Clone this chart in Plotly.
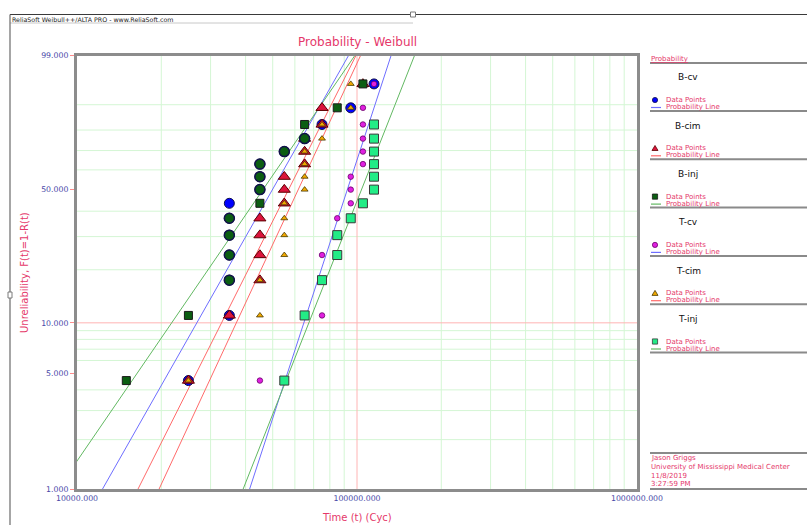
import numpy as np
import plotly.graph_objects as go

W, H = 807, 525

# Median-rank unreliability (%) for a sample of 15
unrel_pct = [4.55, 11.04, 17.53, 24.03, 30.52, 37.01, 43.51, 50.00,
             56.49, 62.99, 69.48, 75.97, 82.47, 88.96, 95.45]

series_names = ["B-cv", "B-cim", "B-inj", "T-cv", "T-cim", "T-inj"]

# Cycles to failure, sorted, aligned with unrel_pct
cycles_b_cv = [25000, 35000, 35000, 35000, 35000, 35000, 35000, 45000,
               45000, 45000, 55000, 65000, 75000, 95000, 115000]
cycles_b_cim = [25000, 35000, 45000, 45000, 45000, 45000, 55000, 55000,
                55000, 65000, 65000, 65000, 75000, 75000, 105000]
cycles_b_inj = [15000, 25000, 35000, 35000, 35000, 35000, 45000, 45000,
                45000, 45000, 55000, 65000, 65000, 85000, 105000]
cycles_t_cv = [45000, 75000, 75000, 75000, 85000, 85000, 95000, 95000,
               95000, 105000, 105000, 105000, 105000, 105000, 115000]
cycles_t_cim = [25000, 45000, 45000, 55000, 55000, 55000, 55000, 65000,
                65000, 65000, 65000, 75000, 75000, 95000, 95000]
cycles_t_inj = [55000, 65000, 75000, 85000, 85000, 95000, 105000, 115000,
                115000, 115000, 115000, 115000, 115000]

# Fitted 2-parameter Weibull (shape beta, scale eta in cycles)
weibull_beta = [3.03, 3.42, 2.51, 5.27, 3.70, 4.35]
weibull_eta = [56300, 63400, 53400, 99000, 68100, 112900]

x_tick_vals = [1e4, 1e5, 1e6]
x_tick_text = ["10000.000", "100000.000", "1000000.000"]
y_tick_pct = [1, 5, 10, 50, 99]
y_tick_text = ["1.000", "5.000", "10.000", "50.000", "99.000"]
x_grid_vals = [2e4, 3e4, 4e4, 5e4, 6e4, 7e4, 8e4, 9e4,
               2e5, 3e5, 4e5, 5e5, 6e5, 7e5, 8e5, 9e5]
y_grid_pct = [2, 3, 4, 6, 7, 8, 9, 20, 30, 40, 60, 70, 80, 90]
x_red_line = [1e5]
y_red_line = [10]

author_lines = ["Jason Griggs", "University of Mississippi Medical Center",
                "11/8/2019", "3:27:59 PM"]


def wscale(p):
    """Weibull probability-paper ordinate: ln(-ln(1-F))."""
    return np.log(-np.log(1.0 - np.asarray(p, dtype=float) / 100.0))


# plot rectangle in pixels
PX0, PX1, PY0, PY1 = 77, 637, 55.7, 489
Y_LO, Y_HI = float(wscale(1)), float(wscale(99))

PINK = "#E5386A"
TICK_BLUE = "#4848A8"
GRID_GREEN = "#D4F6D4"
GRID_RED = "#FFB4B4"
FONT = "DejaVu Sans"

styles = {
    "B-cv": dict(symbol="circle", size=10, color="#0000FF", lc="#10104A", lw=1.0, line="#6E6EFF"),
    "B-cim": dict(symbol="triangle-up", size=10.5, color="#DC143C", lc="#5A0000", lw=1.0, line="#FF6A6A"),
    "B-inj": dict(symbol="square", size=8, color="#0B5E12", lc="#1A1A1A", lw=1.0, line="#62B862"),
    "T-cv": dict(symbol="circle", size=5.5, color="#E020E0", lc="#6A006A", lw=0.8, line="#6E6EFF"),
    "T-cim": dict(symbol="triangle-up", size=6, color="#F2A900", lc="#4A3A00", lw=0.8, line="#FF6A6A"),
    "T-inj": dict(symbol="square", size=9, color="#22EC86", lc="#3A3A3A", lw=1.0, line="#62B862"),
}
cycles = {"B-cv": cycles_b_cv, "B-cim": cycles_b_cim, "B-inj": cycles_b_inj,
          "T-cv": cycles_t_cv, "T-cim": cycles_t_cim, "T-inj": cycles_t_inj}

fig = go.Figure()

# grid
gx, gy = [], []
for v in x_grid_vals:
    gx += [v, v, None]
    gy += [Y_LO, Y_HI, None]
for p in y_grid_pct:
    w = float(wscale(p))
    gx += [1e4, 1e6, None]
    gy += [w, w, None]
fig.add_trace(go.Scatter(x=gx, y=gy, mode="lines", line=dict(color=GRID_GREEN, width=1),
                         hoverinfo="skip", showlegend=False))
rx, ry = [], []
for v in x_red_line:
    rx += [v, v, None]
    ry += [Y_LO, Y_HI, None]
for p in y_red_line:
    w = float(wscale(p))
    rx += [1e4, 1e6, None]
    ry += [w, w, None]
fig.add_trace(go.Scatter(x=rx, y=ry, mode="lines", line=dict(color=GRID_RED, width=1),
                         hoverinfo="skip", showlegend=False))

# fitted probability lines
for name, b, e in zip(series_names, weibull_beta, weibull_eta):
    wline = np.array([-5.5, 2.5])
    tline = e * np.exp(wline / b)
    fig.add_trace(go.Scatter(x=tline, y=wline, mode="lines",
                             line=dict(color=styles[name]["line"], width=1),
                             hoverinfo="skip", showlegend=False))

# data points
bcv_pts = set(zip(cycles_b_cv, unrel_pct))
shared = [(t, p) for t, p in zip(cycles_b_inj, unrel_pct) if (t, p) in bcv_pts]


def add_points(name, ts, ps, **over):
    s = dict(styles[name])
    s.update(over)
    fig.add_trace(go.Scatter(
        x=ts, y=wscale(ps), mode="markers", name=name,
        marker=dict(symbol=s["symbol"], size=s["size"], color=s["color"],
                    line=dict(color=s["lc"], width=s["lw"])),
        showlegend=False, cliponaxis=False))


for name in series_names:
    ts = cycles[name]
    ps = unrel_pct[:len(ts)]
    if name == "B-inj":
        own = [(t, p) for t, p in zip(ts, ps) if (t, p) not in bcv_pts]
        add_points("B-inj", [t for t, _ in shared], [p for _, p in shared],
                   symbol="circle", size=10, lc="#12124A", lw=1.5)
        add_points(name, [t for t, _ in own], [p for _, p in own])
    else:
        add_points(name, ts, ps)

shapes = []
annotations = []


def fx(x):
    return x / W


def fy(y):
    return 1 - y / H


def hline(x0, x1, y, color, width):
    shapes.append(dict(type="line", xref="paper", yref="paper", x0=fx(x0), x1=fx(x1),
                       y0=fy(y), y1=fy(y), line=dict(color=color, width=width)))


def text(x, y, s, size, color, xanchor="left", angle=0, family=FONT):
    annotations.append(dict(x=fx(x), y=fy(y), xref="paper", yref="paper", text=s,
                            showarrow=False, xanchor=xanchor, yanchor="middle",
                            textangle=angle, font=dict(family=family, size=size, color=color)))


# window frame and header
hline(10, 807, 14.5, "#3A3A3A", 1.2)
hline(10, 413, 23, "#C8C8C8", 1)
shapes.append(dict(type="line", xref="paper", yref="paper", x0=fx(10), x1=fx(10),
                   y0=fy(14.5), y1=0, line=dict(color="#6A6A6A", width=1.2)))
shapes.append(dict(type="rect", xref="paper", yref="paper", x0=fx(410.5), x1=fx(415.5),
                   y0=fy(12), y1=fy(17), line=dict(color="#7A7A7A", width=1), fillcolor="white"))
shapes.append(dict(type="rect", xref="paper", yref="paper", x0=fx(8), x1=fx(12),
                   y0=fy(292), y1=fy(298), line=dict(color="#7A7A7A", width=1), fillcolor="white"))
text(10, 19, "ReliaSoft Weibull++/ALTA PRO - www.ReliaSoft.com", 6.3, "#202020")

# titles
text(357, 42, "Probability - Weibull", 12, PINK, xanchor="center")
text(357, 517, "Time (t) (Cyc)", 10, PINK, xanchor="center")
text(24, 273, "Unreliability, F(t)=1-R(t)", 10, PINK, xanchor="center", angle=-90)

# legend panel
text(649, 58.5, "<u>Probability</u>", 7, PINK)
hline(650, 807, 63, "#8A8A8A", 2)
STEP = 48.3
for k, name in enumerate(series_names):
    s = styles[name]
    y_name = 77.3 + STEP * k
    y_pts = 100 + STEP * k
    y_line = 107.5 + STEP * k
    y_sep = 111 + STEP * k
    text(688, y_name, name, 9, "#101010", xanchor="center")
    mx, r = 655, 2.6
    if s["symbol"] == "circle":
        shapes.append(dict(type="circle", xref="paper", yref="paper",
                           x0=fx(mx - r), x1=fx(mx + r), y0=fy(y_pts - r), y1=fy(y_pts + r),
                           fillcolor=s["color"], line=dict(color=s["lc"], width=0.8)))
    elif s["symbol"] == "square":
        shapes.append(dict(type="rect", xref="paper", yref="paper",
                           x0=fx(mx - r), x1=fx(mx + r), y0=fy(y_pts - r), y1=fy(y_pts + r),
                           fillcolor=s["color"], line=dict(color=s["lc"], width=0.8)))
    else:
        path = "M {:.5f},{:.5f} L {:.5f},{:.5f} L {:.5f},{:.5f} Z".format(
            fx(mx - 3), fy(y_pts + 2.2), fx(mx + 3), fy(y_pts + 2.2), fx(mx), fy(y_pts - 2.8))
        shapes.append(dict(type="path", xref="paper", yref="paper", path=path,
                           fillcolor=s["color"], line=dict(color=s["lc"], width=0.8)))
    text(664, y_pts, "Data Points", 7, PINK)
    hline(651, 661, y_line, s["line"], 1.2)
    text(664, y_line - 0.3, "Probability Line", 7, PINK)
    hline(650, 807, y_sep, "#8A8A8A", 2)

# author block
hline(650, 807, 453, "#8A8A8A", 2)
hline(650, 807, 489, "#8A8A8A", 2)
for i, line_txt in enumerate(author_lines):
    text(649, 458.3 + 8.7 * i, line_txt, 7, PINK)

fig.update_layout(
    width=W, height=H, autosize=False,
    margin=dict(l=0, r=0, t=0, b=0, pad=0, autoexpand=False),
    paper_bgcolor="white", plot_bgcolor="white",
    showlegend=False,
    shapes=shapes, annotations=annotations,
    xaxis=dict(type="log", range=[4, 6], domain=[PX0 / W, PX1 / W], automargin=False,
               showgrid=False, zeroline=False,
               showline=True, linecolor="#8C8C8C", linewidth=3, mirror=True,
               tickmode="array", tickvals=x_tick_vals, ticktext=x_tick_text,
               ticks="", tickfont=dict(family=FONT, size=7.8, color=TICK_BLUE)),
    yaxis=dict(range=[Y_LO, Y_HI], domain=[1 - PY1 / H, 1 - PY0 / H], automargin=False,
               showgrid=False, zeroline=False,
               showline=True, linecolor="#8C8C8C", linewidth=3, mirror=True,
               tickmode="array", tickvals=list(wscale(y_tick_pct)), ticktext=y_tick_text,
               ticks="outside", ticklen=4, tickcolor="#FF8C8C", tickwidth=1,
               tickfont=dict(family=FONT, size=7.8, color=TICK_BLUE)),
)

fig.write_html("out.html")
